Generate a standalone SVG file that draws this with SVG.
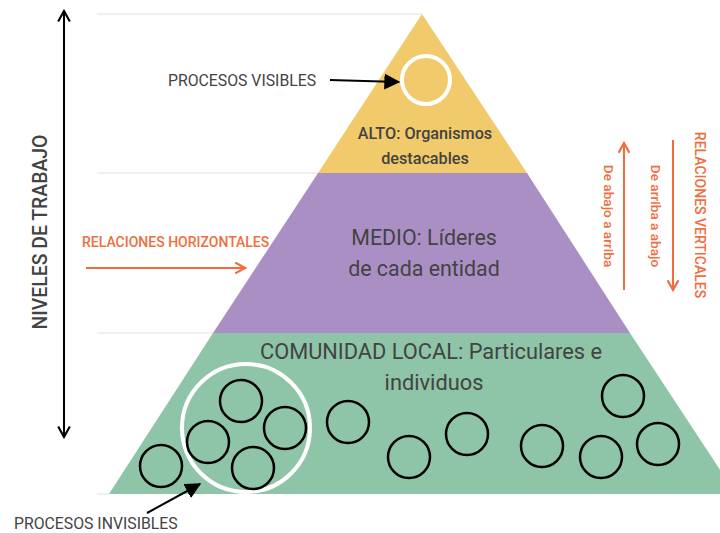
<svg xmlns="http://www.w3.org/2000/svg" width="720" height="533" viewBox="0 0 720 533">
<defs>
<marker id="chevK" viewBox="0 0 12 12" refX="10" refY="6" markerWidth="14" markerHeight="14" markerUnits="userSpaceOnUse" orient="auto-start-reverse">
<path d="M1,1 L10,6 L1,11" fill="none" stroke="#000" stroke-width="1.8"/>
</marker>
<marker id="chevO" viewBox="0 0 12 12" refX="10" refY="6" markerWidth="13" markerHeight="13" markerUnits="userSpaceOnUse" orient="auto">
<path d="M1,1 L10,6 L1,11" fill="none" stroke="#f26d3d" stroke-width="2"/>
</marker>
<marker id="tri" viewBox="0 0 12 12" refX="11" refY="6" markerWidth="16" markerHeight="16" markerUnits="userSpaceOnUse" orient="auto">
<path d="M0,0 L12,6 L0,12 Z" fill="#000"/>
</marker>
</defs>
<style>
.grid{stroke:#e0e0e0;stroke-width:1}
.lbl{font-family:Roboto,"Liberation Sans",sans-serif;fill:#434343}
.med{font-weight:500}
.org{font-family:Roboto,"Liberation Sans",sans-serif;fill:#f26d3d;font-weight:500}
.c{fill:none;stroke:#000;stroke-width:2.5}
.w{fill:none;stroke:#fff;stroke-width:4}
</style>
<rect width="720" height="533" fill="#fff"/>
<g id="grid">
<line class="grid" x1="97" y1="14" x2="422" y2="14"/>
<line class="grid" x1="97" y1="173" x2="318" y2="173"/>
<line class="grid" x1="97" y1="333" x2="213" y2="333"/>
<line class="grid" x1="97" y1="494" x2="109" y2="494"/>
</g>
<g id="tier-alto">
<polygon points="422,14 527,173 318,173" fill="#f0ca6b"/>
<circle class="w" cx="426" cy="80" r="24"/>
<text class="lbl med" font-size="16.2" text-anchor="middle"><tspan x="425" y="139">ALTO: Organismos</tspan><tspan x="425" y="164">destacables</tspan></text>
</g>
<g id="tier-medio">
<polygon points="318,173 527,173 630,333 213,333" fill="#aa8fc5"/>
<text class="lbl" font-size="21.4" text-anchor="middle"><tspan x="424" y="245">MEDIO: Líderes</tspan><tspan x="424" y="276">de cada entidad</tspan></text>
</g>
<g id="tier-comunidad">
<polygon points="213,333 630,333 736,494 109,494" fill="#8ec4a7"/>
<text class="lbl" font-size="21.8" text-anchor="middle"><tspan x="431" y="359">COMUNIDAD LOCAL: Particulares e</tspan><tspan x="434" y="390">individuos</tspan></text>
<circle class="w" cx="246" cy="428" r="64"/>
<circle class="c" cx="161" cy="466" r="21"/>
<circle class="c" cx="241" cy="401" r="21"/>
<circle class="c" cx="208" cy="442" r="21"/>
<circle class="c" cx="285" cy="428" r="21"/>
<circle class="c" cx="253" cy="468" r="21"/>
<circle class="c" cx="348" cy="422" r="21"/>
<circle class="c" cx="409" cy="457" r="21"/>
<circle class="c" cx="467" cy="434" r="21"/>
<circle class="c" cx="542" cy="446" r="21"/>
<circle class="c" cx="601" cy="457" r="21"/>
<circle class="c" cx="623" cy="396" r="21"/>
<circle class="c" cx="658" cy="444" r="21"/>
</g>
<g id="niveles">
<text class="lbl med" font-size="19.4" text-anchor="middle" transform="translate(47,232) rotate(-90)">NIVELES DE TRABAJO</text>
</g>
<g id="procesos-visibles">
<text class="lbl" font-size="15.8" x="168" y="86">PROCESOS VISIBLES</text>
</g>
<g id="procesos-invisibles">
<text class="lbl" font-size="15.8" x="14" y="529">PROCESOS INVISIBLES</text>
</g>
<g id="rel-horizontales">
<text class="org" font-size="14" x="82" y="247">RELACIONES HORIZONTALES</text>
</g>
<g id="rel-verticales">
<text class="org" font-size="14" text-anchor="middle" transform="translate(695,215) rotate(90)">RELACIONES VERTICALES</text>
<text class="org" font-size="13.6" text-anchor="middle" transform="translate(604,216) rotate(90)">De abajo a arriba</text>
<text class="org" font-size="13.6" text-anchor="middle" transform="translate(651,216) rotate(90)">De arriba a abajo</text>
</g>
<g id="connectors">
<line x1="64" y1="11" x2="64" y2="437" stroke="#000" stroke-width="2" marker-start="url(#chevK)" marker-end="url(#chevK)"/>
<line x1="330" y1="80" x2="399" y2="82" stroke="#000" stroke-width="2" marker-end="url(#tri)"/>
<line x1="147" y1="513" x2="200" y2="484" stroke="#000" stroke-width="2" marker-end="url(#tri)"/>
<line x1="86" y1="268" x2="245" y2="268" stroke="#f26d3d" stroke-width="2" marker-end="url(#chevO)"/>
<line x1="624" y1="290" x2="624" y2="143" stroke="#f26d3d" stroke-width="2" marker-end="url(#chevO)"/>
<line x1="673" y1="140" x2="673" y2="290" stroke="#f26d3d" stroke-width="2" marker-end="url(#chevO)"/>
</g>
</svg>
